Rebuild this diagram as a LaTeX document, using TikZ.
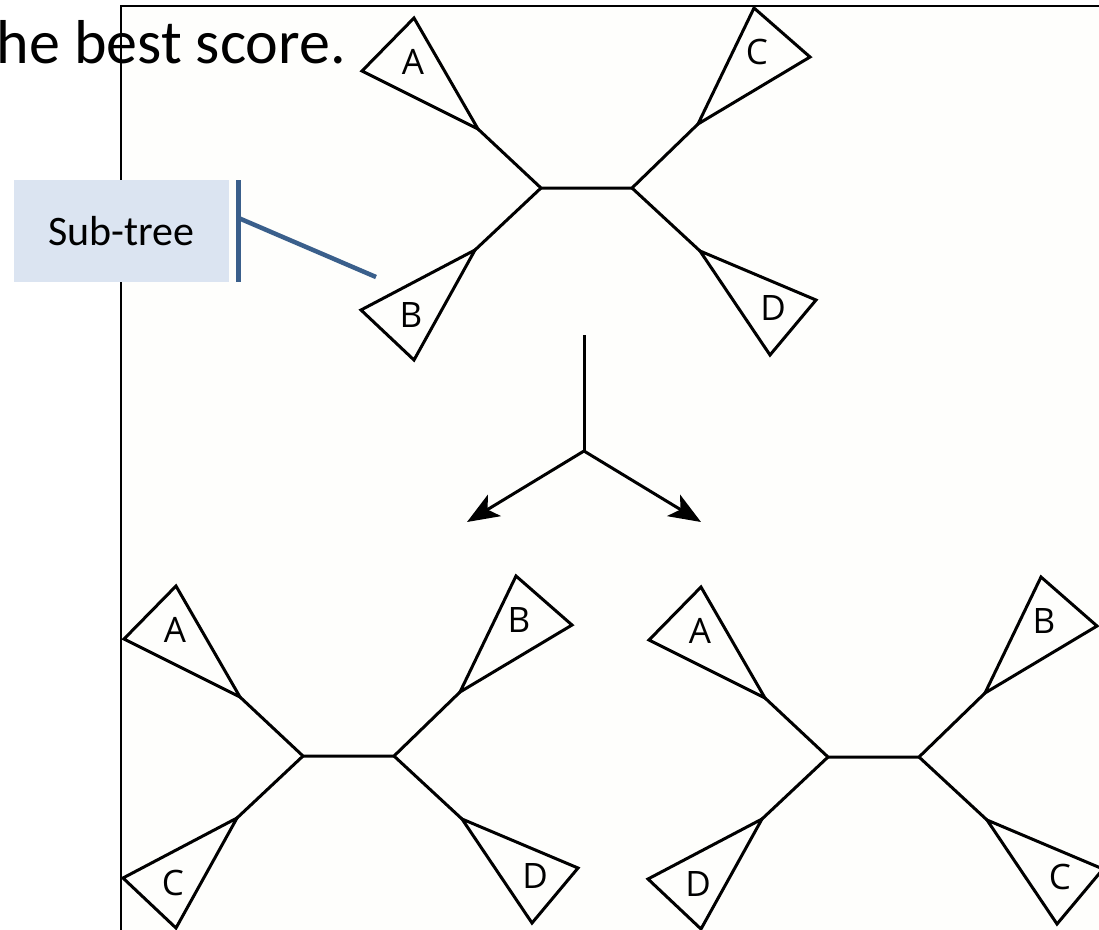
\documentclass[tikz,border=0pt]{standalone}
\usepackage{fontspec}
\setmainfont{Carlito}
\newfontfamily\leaffont{Open Sans}
\usetikzlibrary{arrows.meta}

\definecolor{panelfill}{RGB}{254,254,252}
\definecolor{calloutfill}{RGB}{219,228,241}
\definecolor{calloutline}{RGB}{58,95,139}

\tikzset{
  branch/.style={line width=3pt, line join=miter, line cap=butt},
  leaf/.style={font=\leaffont\fontsize{35}{35}\selectfont, inner sep=0pt},
  fork/.style={line width=3pt, -{Stealth[length=32pt,width=25pt,inset=8pt]}},
  callout/.style={line width=4.5pt, draw=calloutline},
}

% An unrooted four-leaf tree: #1 name prefix, #2 position of the left inner node,
% #3 upper-left, #4 lower-left, #5 upper-right, #6 lower-right subtree labels
\newcommand\unrootedtree[6]{%
  \begin{scope}[shift={#2}]
    \coordinate (#1-l)  at (0,0);
    \coordinate (#1-r)  at (91,0);
    \coordinate (#1-ul) at (-63,-59);
    \coordinate (#1-ll) at (-66,62);
    \coordinate (#1-ur) at (157,-64);
    \coordinate (#1-lr) at (159,63);
    \draw[branch] (#1-ul) -- (#1-l) -- (#1-r) -- (#1-ur);
    \draw[branch] (#1-ll) -- (#1-l);
    \draw[branch] (#1-r) -- (#1-lr);
    \draw[branch] (#1-ul) -- (-127,-170) -- (-179,-117) -- cycle;
    \draw[branch] (#1-ll) -- (-180,122) -- (-127,172) -- cycle;
    \draw[branch] (#1-ur) -- (213,-180) -- (269,-131) -- cycle;
    \draw[branch] (#1-lr) -- (275,112) -- (229,167) -- cycle;
    \node[leaf] (#1-a) at (-128,-126) {#3};
    \node[leaf] (#1-b) at (-130,127) {#4};
    \node[leaf] (#1-c) at (216,-136) {#5};
    \node[leaf] (#1-d) at (232,120) {#6};
  \end{scope}}

\begin{document}
\begin{tikzpicture}[x=1pt,y=-1pt]
  \useasboundingbox (0,0) rectangle (1099,929);
  \clip (0,0) rectangle (1099,929);

  % framed panel
  \draw[line width=1.4pt, fill=panelfill] (121,6) rectangle (1120,950);

  % caption fragment
  \node[anchor=base east, inner sep=0pt, font=\fontsize{62}{62}\selectfont]
    (caption) at (346,63) {the best score.};

  % callout
  \node[fill=calloutfill, minimum width=215pt, minimum height=102pt, inner sep=0pt,
        font=\fontsize{42}{42}\selectfont] (subtree) at (121.5,231) {Sub-tree};
  \coordinate (bartop) at (238.5,180);
  \coordinate (barbot) at (238.5,282);
  \coordinate (barmid) at (238.5,218);
  \coordinate (pointer) at (376,277);
  \draw[callout] (bartop) -- (barbot);
  \draw[callout] (barmid) -- (pointer);

  % trees
  \unrootedtree{top}{(541,188)}{A}{B}{C}{D}
  \unrootedtree{left}{(303,756)}{A}{C}{B}{D}
  \unrootedtree{right}{(828,757)}{A}{D}{B}{C}

  % branching arrow
  \coordinate (stem) at (584,335);
  \coordinate (split) at (584,451);
  \coordinate (tipl) at (467,522);
  \coordinate (tipr) at (701,522);
  \draw[line width=3pt] (stem) -- (split);
  \draw[fork] (split) -- (tipl);
  \draw[fork] (split) -- (tipr);
\end{tikzpicture}
\end{document}
